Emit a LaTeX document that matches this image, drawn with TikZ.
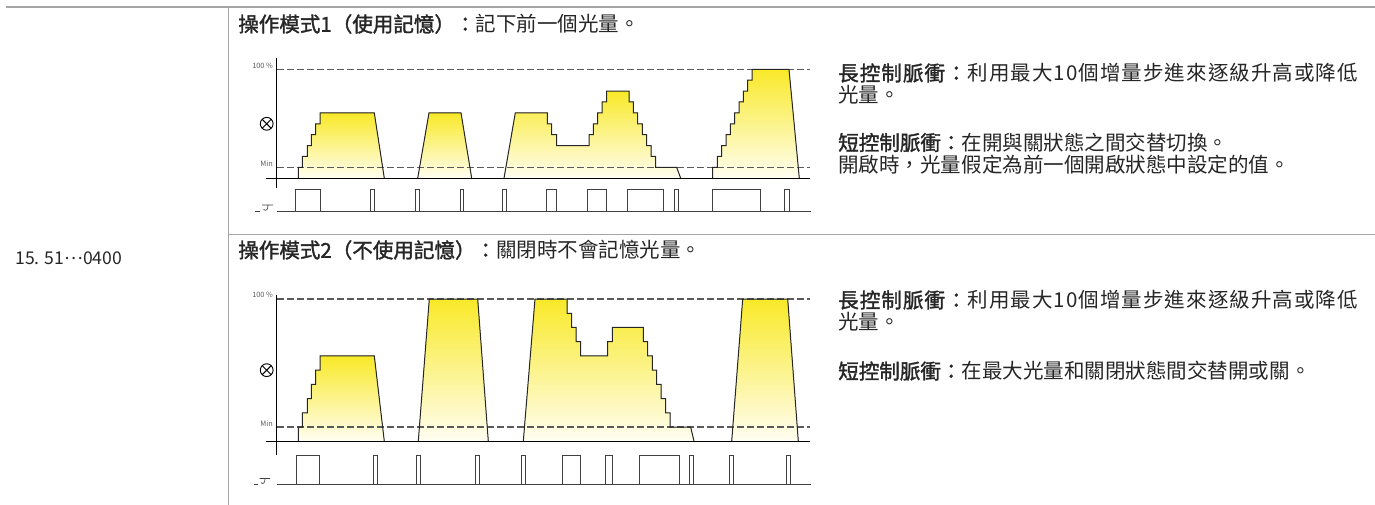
\documentclass[tikz,border=0pt]{standalone}
\usepackage{fontspec}
\setmainfont{Noto Sans CJK TC}[BoldFont={Noto Sans CJK TC}, BoldFeatures={FakeBold=1.6}]
\usepackage{tikz}

\definecolor{lampyellow}{RGB}{249,233,40}
\definecolor{lampwhite}{RGB}{255,254,242}
\definecolor{rulegray}{RGB}{165,165,165}
\definecolor{dashgray}{RGB}{90,90,90}

\begin{document}
\begin{tikzpicture}[x=0.75pt, y=-0.75pt,
		lampfill/.style={top color=lampyellow, bottom color=lampwhite},
		lampedge/.style={draw=black!85, line width=0.75pt},
		limit/.style={dashgray, line width=1pt, dash pattern=on 4.9pt off 2.6pt},
		pulse/.style={draw=black!75, line width=0.7pt, fill=white},
		txt/.style={anchor=west, inner sep=0pt, text=black!85, font=\fontsize{15.4}{16.5}\selectfont},
		wide/.style={font=\fontsize{15.4}{16.5}\selectfont\addfontfeatures{LetterSpace=5}},
		scalelabel/.style={anchor=south east, inner sep=0.6pt, text=black!65, font=\fontsize{5.5}{6}\selectfont},
		lamp/.style={circle, draw, line width=0.7pt, minimum size=9.6pt, inner sep=0pt,
			path picture={\draw[line width=0.7pt] (path picture bounding box.north west) -- (path picture bounding box.south east)
				(path picture bounding box.north east) -- (path picture bounding box.south west);}}]
		\useasboundingbox (0,0) rectangle (1375,505);
		%% table rules
		\draw[rulegray, line width=1.5pt] (6,7.3) -- (1375,7.3);
		\draw[rulegray, line width=0.75pt] (228.3,8) -- (228.3,505);
		\draw[rulegray, line width=0.75pt] (228.3,234.3) -- (1375,234.3);
		%%
		\node[txt, font=\fontsize{13.2}{14}\selectfont] (code) at (15,258.3) {15. 51\raisebox{0.3em}{…}0400};
		\node[txt] (title1) at (238,24) {\textbf{操作模式1（使用記憶）：}記下前一個光量。};
		\node[txt] (title2) at (238,250) {\textbf{操作模式2（不使用記憶）：}關閉時不會記憶光量。};
		%%
		\node[txt, wide] (long1a) at (838,73) {\textbf{長控制脈衝：}利用最大10個增量步進來逐級升高或降低};
		\node[txt] (long1b) at (838,95) {光量。};
		\node[txt, align=left] (short1) at (838,153.5) {\textbf{短控制脈衝：}在開與關狀態之間交替切換。\\開啟時，光量假定為前一個開啟狀態中設定的值。};
		\node[txt, wide] (long2a) at (838,300) {\textbf{長控制脈衝：}利用最大10個增量步進來逐級升高或降低};
		\node[txt] (long2b) at (838,322) {光量。};
		\node[txt] (short2) at (838,371) {\textbf{短控制脈衝：}在最大光量和關閉狀態間交替開或關。};
		%%
		\begin{scope}[shift={(0,178.3)}, y=8.175pt]
		\def\waveA{(298.3,0) |- (302.3,1) |- (307.3,2) |- (311.3,3) |- (315.7,4) |- (320,5) |- (374.3,6) -- (384.3,0)}
		\def\waveB{(417.7,0) -- (429,6) -- (461,6) -- (471.7,0)}
		\def\waveC{(504,0) -- (515.3,6) -- (547.3,6) |- (551.7,5) |- (556.7,4) |- (589,3) |- (593.3,4) |- (597.7,5) |- (602,6) |- (606.7,7) |- (629,8) |- (633.3,7) |- (637.7,6) |- (642.3,5) |- (646.7,4) |- (651,3) |- (655.7,2) |- (676.7,1) -- (680.7,0)}
		\def\waveD{(712.7,0) |- (717.3,1) |- (721.7,2) |- (726,3) |- (730.3,4) |- (734.7,5) |- (739,6) |- (743.3,7) |- (747.7,8) |- (752,9) |- (789,10) -- (799.3,0)}
		\fill[lampfill] \waveA;
		\fill[lampfill] \waveB;
		\fill[lampfill] \waveC;
		\fill[lampfill] \waveD;
		\draw[limit] (277,10) -- (810,10);
		\draw[limit] (277,1) -- (810,1);
		\draw[lampedge] \waveA;
		\draw[lampedge] \waveB;
		\draw[lampedge] \waveC;
		\draw[lampedge] \waveD;
		%%
		\draw[line width=0.8pt] (276.7,11) -- (276.7,-0.9);
		\draw[line width=0.8pt] (266,0) -- (810,0);
		\node[scalelabel] (full1) at (274,10) {100 \%};
		\node[scalelabel] (min1) at (274,1) {Min};
		\node[lamp] (lamp1) at (266.7,5) {};
		%% push button
		\draw[black!75, line width=0.7pt] (276.7,-3) -- (810.7,-3);
		\draw[black!75, line width=0.5pt] (255,-3) -- (259.5,-3);
		\draw[black!75, line width=0.5pt] (262,-2.45) -- (273,-2.45) (268,-2.45) .. controls (268,-2.9) and (266,-3.05) .. (263.5,-2.85);
		\foreach \a/\b in {295.7/320, 370.7/374, 415.7/419, 460/463.3, 502.7/506, 546/556, 587.3/606.7, 627.7/663.3, 674.3/678.3, 712.3/760, 784.7/789}
			\draw[pulse] (\a,-3) rectangle (\b,-1);
		\end{scope}
		%%
		\begin{scope}[shift={(0,441.3)}, y=10.67pt]
		\def\waveA{(298.3,0) |- (302.3,1) |- (307.3,2) |- (311.3,3) |- (315.7,4) |- (320,5) |- (374.3,6) -- (384.3,0)}
		\def\waveB{(418.3,0) -- (429.3,10) -- (477.7,10) -- (488.3,0)}
		\def\waveC{(523.3,0) -- (535,10) -- (567,10) |- (571.7,9) |- (576,8) |- (580.7,7) |- (607.7,6) |- (612.3,7) |- (643.3,8) |- (647.7,7) |- (652.3,6) |- (656.7,5) |- (661,4) |- (665.7,3) |- (670,2) |- (690.7,1) -- (694,0)}
		\def\waveD{(731.7,0) -- (742.7,10) -- (787.7,10) -- (798.3,0)}
		\fill[lampfill] \waveA;
		\fill[lampfill] \waveB;
		\fill[lampfill] \waveC;
		\fill[lampfill] \waveD;
		\draw[limit] (277,10) -- (810,10);
		\draw[limit] (277,1) -- (810,1);
		\draw[lampedge] \waveA;
		\draw[lampedge] \waveB;
		\draw[lampedge] \waveC;
		\draw[lampedge] \waveD;
		%%
		\draw[line width=0.8pt] (276.7,10.3) -- (276.7,-0.95);
		\draw[line width=0.8pt] (266,0) -- (810,0);
		\node[scalelabel] (full2) at (274,10) {100 \%};
		\node[scalelabel] (min2) at (274,1) {Min};
		\node[lamp] (lamp2) at (266.7,5) {};
		%% push button
		\draw[black!75, line width=0.7pt] (276.7,-3) -- (810.7,-3);
		\draw[black!75, line width=0.5pt] (253.5,-3) -- (258,-3);
		\draw[black!75, line width=0.5pt] (259.5,-2.62) -- (270,-2.62) (265,-2.62) .. controls (265,-2.95) and (263,-3.05) .. (261,-2.9);
		\foreach \a/\b in {296/319.3, 373.7/377.3, 416.3/420.3, 475.3/479.3, 521.7/525.7, 562.7/580.3, 605.7/612.3, 639/679.3, 689.3/693.3, 729.7/733.7, 786/790}
			\draw[pulse] (\a,-3) rectangle (\b,-1);
		\end{scope}
	\end{tikzpicture}
\end{document}
